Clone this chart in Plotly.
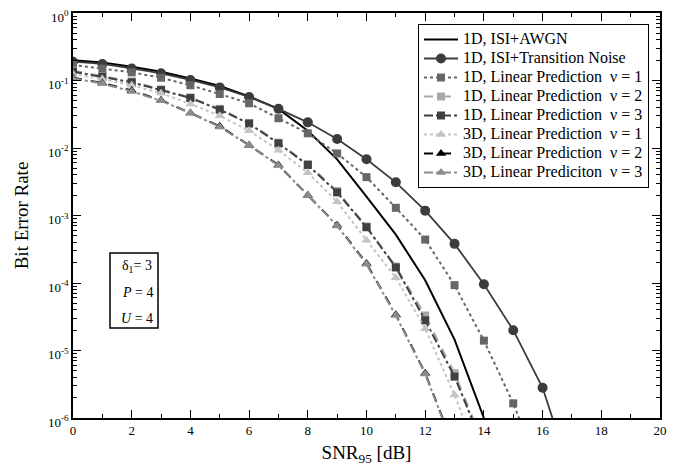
import plotly.graph_objects as go

# Values (Bit Error Rate)
awgn_x = list(range(0, 15))
awgn = [0.20, 0.185, 0.16, 0.135, 0.107, 0.083, 0.058, 0.038, 0.018, 0.0068,
        0.0019, 5.2e-4, 1.1e-4, 1.45e-5, 1.0e-6]

tn_x = list(range(0, 18))
trans_noise = [0.19, 0.176, 0.151, 0.128, 0.102, 0.079, 0.057, 0.038, 0.024, 0.0136,
               0.0068, 0.0031, 0.00118, 3.8e-4, 9.6e-5, 2.0e-5, 2.8e-6, 1.3e-7]

lp1d_x = list(range(0, 17))
lp1d_v1 = [0.17, 0.15, 0.132, 0.11, 0.085, 0.063, 0.046, 0.0276, 0.0165, 0.0083,
           0.0037, 0.0013, 4.4e-4, 9.3e-5, 1.4e-5, 1.65e-6, 1.3e-7]

lp_x = list(range(0, 15))
lp1d_v2 = [0.14, 0.116, 0.097, 0.074, 0.056, 0.038, 0.0235, 0.012, 0.0058, 0.0023,
           6.9e-4, 1.75e-4, 3.3e-5, 4.6e-6, 4.0e-7]
lp1d_v3 = [0.135, 0.114, 0.094, 0.072, 0.055, 0.037, 0.023, 0.0117, 0.0056, 0.0022,
           6.7e-4, 1.7e-4, 2.8e-5, 4.1e-6, 3.6e-7]
lp3d_v1 = [0.125, 0.105, 0.085, 0.065, 0.045, 0.030, 0.018, 0.0093, 0.0043, 0.0016,
           4.3e-4, 1.2e-4, 2.1e-5, 2.2e-6, 1.6e-7]

lp3d_x = list(range(0, 14))
lp3d_v2 = [0.11, 0.092, 0.071, 0.051, 0.033, 0.021, 0.011, 0.0056, 0.0020, 7.2e-4,
           1.95e-4, 3.4e-5, 4.6e-6, 3.5e-7]
lp3d_v3 = [0.108, 0.09, 0.069, 0.05, 0.033, 0.0205, 0.011, 0.0055, 0.0020, 7.0e-4,
           1.9e-4, 3.3e-5, 4.5e-6, 3.4e-7]

x_ticks = [0, 2, 4, 6, 8, 10, 12, 14, 16, 18, 20]
y_tick_exps = [0, -1, -2, -3, -4, -5, -6]

SP = "\u00a0\u00a0"
names = [
    "1D, ISI+AWGN",
    "1D, ISI+Transition Noise",
    "1D, Linear Prediction" + SP + "\u03bd = 1",
    "1D, Linear Prediction" + SP + "\u03bd = 2",
    "1D, Linear Prediction" + SP + "\u03bd = 3",
    "3D, Linear Prediction" + SP + "\u03bd = 1",
    "3D, Linear Prediction" + SP + "\u03bd = 2",
    "3D, Linear Prediciton" + SP + "\u03bd = 3",
]

SERIF = "Liberation Serif"

def lg(n):
    return '<span style="font-size:16px">' + n + "</span>"

fig = go.Figure()
fig.add_trace(go.Scatter(x=awgn_x, y=awgn, name=lg(names[0]), mode="lines",
                         line=dict(color="black", width=2)))
fig.add_trace(go.Scatter(x=tn_x, y=trans_noise, name=lg(names[1]), mode="lines+markers",
                         line=dict(color="#3c3c3c", width=1.8),
                         marker=dict(symbol="circle", size=10, color="#3c3c3c")))
fig.add_trace(go.Scatter(x=lp1d_x, y=lp1d_v1, name=lg(names[2]), mode="lines+markers",
                         line=dict(color="#666666", width=2, dash="dot"),
                         marker=dict(symbol="square", size=8, color="#666666")))
fig.add_trace(go.Scatter(x=lp_x, y=lp1d_v2, name=lg(names[3]), mode="lines+markers",
                         line=dict(color="#a8a8a8", width=2, dash="dash"),
                         marker=dict(symbol="square", size=8, color="#a8a8a8")))
fig.add_trace(go.Scatter(x=lp_x, y=lp1d_v3, name=lg(names[4]), mode="lines+markers",
                         line=dict(color="#404040", width=2, dash="dashdot"),
                         marker=dict(symbol="square", size=8, color="#404040")))
fig.add_trace(go.Scatter(x=lp_x, y=lp3d_v1, name=lg(names[5]), mode="lines+markers",
                         line=dict(color="#c4c4c4", width=2, dash="dot"),
                         marker=dict(symbol="triangle-up", size=9, color="#c4c4c4")))
fig.add_trace(go.Scatter(x=lp3d_x, y=lp3d_v2, name=lg(names[6]), mode="lines+markers",
                         line=dict(color="black", width=2, dash="dash"),
                         marker=dict(symbol="triangle-up", size=9, color="black")))
fig.add_trace(go.Scatter(x=lp3d_x, y=lp3d_v3, name=lg(names[7]), mode="lines+markers",
                         line=dict(color="#8c8c8c", width=2, dash="dashdot"),
                         marker=dict(symbol="triangle-up", size=9, color="#8c8c8c")))

minor_y = [k * 10 ** e for e in range(-6, 0) for k in range(2, 10)]

# page body has an 8px margin: size the figure so the plot area lands where the reference's does
W, H = 671, 462
L, R, T, B = 65, 19, 5, 52
pw, ph = W - L - R, H - T - B

def px_x(px):
    return (px - 8 - L) / pw

def px_y(py):
    return 1 - (py - 8 - T) / ph

fig.update_layout(
    width=W, height=H,
    margin=dict(l=L, r=R, t=T, b=B, autoexpand=False),
    paper_bgcolor="white", plot_bgcolor="white",
    font=dict(family=SERIF, color="black", size=14),
    showlegend=True,
    legend=dict(x=px_x(418), y=px_y(24), xanchor="left", yanchor="top",
                bgcolor="white", bordercolor="black", borderwidth=1,
                font=dict(size=11, family=SERIF),
                tracegroupgap=0, itemwidth=34),
    xaxis=dict(range=[0, 20], tickvals=x_ticks, ticktext=[str(v) for v in x_ticks],
               ticks="inside", ticklen=8, tickwidth=1, tickcolor="black",
               minor=dict(dtick=1, tick0=0, ticks="inside", ticklen=4, tickcolor="black"),
               showline=True, linecolor="black", linewidth=1.5, mirror="allticks",
               showgrid=False, zeroline=False, ticklabeloverflow="allow", automargin=False,
               tickfont=dict(size=13, family=SERIF),
               title=dict(text="SNR<sub>95</sub> [dB]", font=dict(size=19, family=SERIF), standoff=8)),
    yaxis=dict(type="log", range=[-6, 0],
               tickvals=[10 ** e for e in y_tick_exps],
               ticktext=["10<sup>%d</sup>" % e for e in y_tick_exps],
               ticks="inside", ticklen=8, tickwidth=1, tickcolor="black",
               minor=dict(tickvals=minor_y, ticks="inside", ticklen=4, tickcolor="black"),
               showline=True, linecolor="black", linewidth=1.5, mirror="allticks",
               showgrid=False, zeroline=False, ticklabeloverflow="allow", automargin=False,
               ticklabelshift=4,
               tickfont=dict(size=13, family=SERIF),
               title=dict(text="Bit Error Rate", font=dict(size=19, family=SERIF), standoff=14)),
)

fig.add_shape(type="rect", xref="paper", yref="paper",
              x0=px_x(110), x1=px_x(158), y0=px_y(328), y1=px_y(253),
              line=dict(color="black", width=1.5), fillcolor="white")
box_lines = ["\u03b4<sub>1</sub>= 3", "<i>P</i> = 4", "<i>U</i> = 4"]
for i, t in enumerate(box_lines):
    fig.add_annotation(text=t, xref="paper", yref="paper",
                       x=px_x(137), y=px_y(266 + 26 * i),
                       showarrow=False, font=dict(size=14, family=SERIF),
                       xanchor="center", yanchor="middle")

fig.write_html("out.html")
